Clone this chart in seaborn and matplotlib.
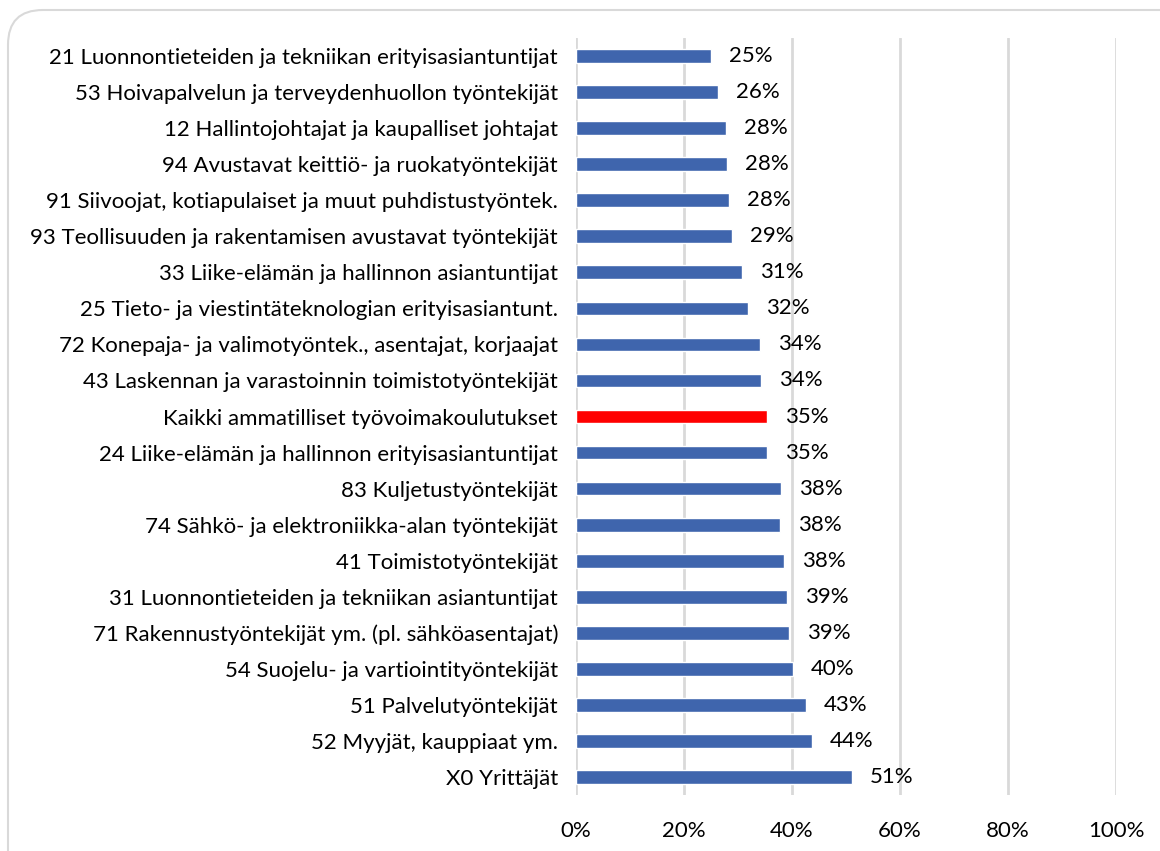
import numpy as np
import pandas as pd
import matplotlib
matplotlib.use("Agg")
import matplotlib.pyplot as plt
from matplotlib.patches import FancyBboxPatch
import seaborn as sns

ammatit = [
    "21 Luonnontieteiden ja tekniikan erityisasiantuntijat",
    "53 Hoivapalvelun ja terveydenhuollon työntekijät",
    "12 Hallintojohtajat ja kaupalliset johtajat",
    "94 Avustavat keittiö- ja ruokatyöntekijät",
    "91 Siivoojat, kotiapulaiset ja muut puhdistustyöntek.",
    "93 Teollisuuden ja rakentamisen avustavat työntekijät",
    "33 Liike-elämän ja hallinnon asiantuntijat",
    "25 Tieto- ja viestintäteknologian erityisasiantunt.",
    "72 Konepaja- ja valimotyöntek., asentajat, korjaajat",
    "43 Laskennan ja varastoinnin toimistotyöntekijät",
    "Kaikki ammatilliset työvoimakoulutukset",
    "24 Liike-elämän ja hallinnon erityisasiantuntijat",
    "83 Kuljetustyöntekijät",
    "74 Sähkö- ja elektroniikka-alan työntekijät",
    "41 Toimistotyöntekijät",
    "31 Luonnontieteiden ja tekniikan asiantuntijat",
    "71 Rakennustyöntekijät ym. (pl. sähköasentajat)",
    "54 Suojelu- ja vartiointityöntekijät",
    "51 Palvelutyöntekijät",
    "52 Myyjät, kauppiaat ym.",
    "X0 Yrittäjät",
]
osuus = [24.9, 26.2, 27.7, 28.0, 28.3, 28.9, 30.7, 31.9, 34.1, 34.2, 35.4,
         35.3, 37.9, 37.8, 38.5, 39.1, 39.4, 40.2, 42.6, 43.7, 51.1]
korostus = "Kaikki ammatilliset työvoimakoulutukset"

df = pd.DataFrame({"ammatti": ammatit, "osuus": osuus})
df["ryhma"] = np.where(df["ammatti"] == korostus, "kaikki", "muu")

sns.set_style("white")
plt.rcParams["font.family"] = ["Lato", "DejaVu Sans"]
fs = 16

fig = plt.figure(figsize=(11.6, 8.51), dpi=100)
ax = fig.add_axes([0.4966, 0.0658, 0.4655, 0.8895])

sns.barplot(data=df, y="ammatti", x="osuus", hue="ryhma", orient="h",
            palette={"muu": "#3F65AD", "kaikki": "#FF0000"}, saturation=1,
            width=0.38, dodge=False, legend=False, ax=ax, zorder=3)

for cont in ax.containers:
    ax.bar_label(cont, labels=[f"{v:.0f}%" for v in cont.datavalues],
                 padding=13, fontsize=fs, color="#000000")

ax.set_xlim(0, 100)
ax.set_ylim(len(ammatit) - 0.5, -0.5)
ax.set_xticks(range(0, 101, 20))
ax.set_xticklabels([f"{t}%" for t in range(0, 101, 20)])
ax.xaxis.grid(True, color="#D9D9D9", linewidth=2, zorder=0)
ax.set_axisbelow(True)
for s in ax.spines.values():
    s.set_visible(False)
ax.tick_params(axis="x", length=0, pad=19, labelsize=fs, labelcolor="#000000")
ax.tick_params(axis="y", length=0, pad=13, labelsize=fs, labelcolor="#000000")
ax.set_xlabel("")
ax.set_ylabel("")

kehys = FancyBboxPatch((8 / 1160, -0.05), 1.2, 1.05 - 10 / 851,
                       boxstyle="round,pad=0,rounding_size=0.03",
                       transform=fig.transFigure, facecolor="none",
                       edgecolor="#D9D9D9", linewidth=1.5, mutation_aspect=1160 / 851)
fig.patches.append(kehys)

fig.savefig("out.png", dpi=100)
